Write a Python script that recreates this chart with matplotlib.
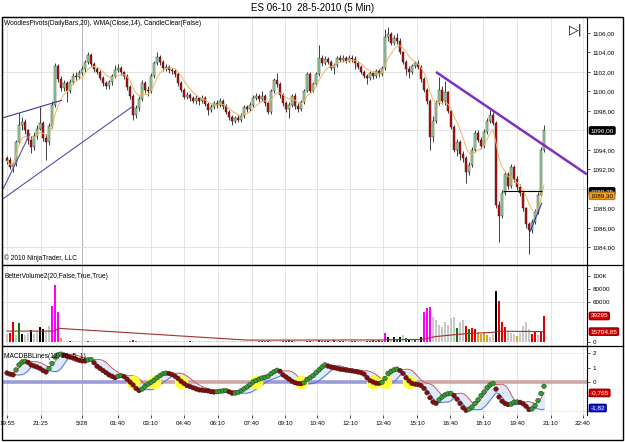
import numpy as np
import pandas as pd
import matplotlib.pyplot as plt
from matplotlib.collections import LineCollection
from matplotlib.lines import Line2D
from matplotlib.patches import Rectangle

plt.rcParams['font.family'] = ['Liberation Sans', 'DejaVu Sans']

# ES 06-10, 5 min candles
opens = [
    1093.2, 1093.0, 1092.3, 1092.6, 1094.8, 1096.6, 1096.9, 1096.0, 1095.0, 1094.3,
    1095.4, 1096.2, 1096.8, 1095.2, 1094.8, 1096.5, 1098.6, 1102.6, 1101.3, 1100.4,
    1100.9, 1100.0, 1101.0, 1101.6, 1101.5, 1101.9, 1102.3, 1103.0, 1103.7, 1102.8,
    1102.3, 1102.0, 1101.4, 1100.9, 1100.6, 1101.0, 1101.6, 1102.2, 1102.4, 1102.0,
    1101.6, 1100.5, 1099.5, 1097.6, 1098.3, 1099.2, 1100.9, 1100.2, 1100.0, 1101.6,
    1102.9, 1103.5, 1103.0, 1102.4, 1102.5, 1102.2, 1102.1, 1101.8, 1100.9, 1100.2,
    1099.4, 1099.6, 1099.3, 1099.0, 1099.3, 1099.0, 1099.3, 1098.7, 1098.1, 1098.4,
    1098.8, 1098.6, 1099.0, 1098.5, 1097.9, 1097.4, 1097.0, 1097.3, 1097.1, 1097.5,
    1098.4, 1098.2, 1098.6, 1099.3, 1099.5, 1099.2, 1099.5, 1098.8, 1097.9, 1100.0,
    1101.2, 1100.8, 1099.6, 1098.8, 1098.2, 1098.6, 1099.5, 1098.5, 1098.2, 1098.9,
    1100.1, 1101.8, 1100.1, 1100.8, 1101.8, 1103.4, 1102.9, 1103.3, 1103.0, 1102.4,
    1102.7, 1103.4, 1103.2, 1103.4, 1103.1, 1103.4, 1103.3, 1102.9, 1102.5, 1102.0,
    1101.6, 1101.4, 1101.9, 1101.6, 1102.1, 1101.8, 1102.4, 1105.6, 1105.9, 1105.0,
    1105.5, 1105.2, 1104.0, 1103.0, 1102.3, 1102.0, 1102.6, 1102.9, 1102.5, 1101.3,
    1100.2, 1099.0, 1095.3, 1097.0, 1098.8, 1100.2, 1099.0, 1099.9, 1098.0, 1096.4,
    1094.0, 1094.8, 1093.6, 1093.2, 1091.7, 1092.5, 1094.0, 1095.7, 1095.0, 1094.4,
    1095.8, 1097.0, 1097.6, 1096.8, 1088.4, 1087.2, 1089.6, 1091.5, 1090.3, 1092.3,
    1091.0, 1090.2, 1089.6, 1088.0, 1086.4, 1085.8, 1086.6, 1087.6, 1089.4, 1094.0,
]
closes = [
    1092.9, 1092.3, 1092.6, 1094.8, 1096.6, 1096.9, 1096.0, 1095.0, 1094.3, 1095.4,
    1096.2, 1096.8, 1095.2, 1094.8, 1096.5, 1098.6, 1102.6, 1101.3, 1100.4, 1100.9,
    1100.0, 1101.0, 1101.6, 1101.5, 1101.9, 1102.3, 1103.0, 1103.7, 1102.8, 1102.3,
    1102.0, 1101.4, 1100.9, 1100.6, 1101.0, 1101.6, 1102.2, 1102.4, 1102.0, 1101.6,
    1100.5, 1099.5, 1097.6, 1098.3, 1099.2, 1100.9, 1100.2, 1100.0, 1101.6, 1102.9,
    1103.5, 1103.0, 1102.4, 1102.5, 1102.2, 1102.1, 1101.8, 1100.9, 1100.2, 1099.4,
    1099.6, 1099.3, 1099.0, 1099.3, 1099.0, 1099.3, 1098.7, 1098.1, 1098.4, 1098.8,
    1098.6, 1099.0, 1098.5, 1097.9, 1097.4, 1097.0, 1097.3, 1097.1, 1097.5, 1098.4,
    1098.2, 1098.6, 1099.3, 1099.5, 1099.2, 1099.5, 1098.8, 1097.9, 1100.0, 1101.2,
    1100.8, 1099.6, 1098.8, 1098.2, 1098.6, 1099.5, 1098.5, 1098.2, 1098.9, 1100.1,
    1101.8, 1100.1, 1100.8, 1101.8, 1103.4, 1102.9, 1103.3, 1103.0, 1102.4, 1102.7,
    1103.4, 1103.2, 1103.4, 1103.1, 1103.4, 1103.3, 1102.9, 1102.5, 1102.0, 1101.6,
    1101.4, 1101.9, 1101.6, 1102.1, 1101.8, 1102.4, 1105.6, 1105.9, 1105.0, 1105.5,
    1105.2, 1104.0, 1103.0, 1102.3, 1102.0, 1102.6, 1102.9, 1102.5, 1101.3, 1100.2,
    1099.0, 1095.3, 1097.0, 1098.8, 1100.2, 1099.0, 1099.9, 1098.0, 1096.4, 1094.0,
    1094.8, 1093.6, 1093.2, 1091.7, 1092.5, 1094.0, 1095.7, 1095.0, 1094.4, 1095.8,
    1097.0, 1097.6, 1096.8, 1088.4, 1087.2, 1089.6, 1091.5, 1090.3, 1092.3, 1091.0,
    1090.2, 1089.6, 1088.0, 1086.4, 1085.8, 1086.6, 1087.6, 1089.4, 1094.0, 1096.0,
]
highs = [
    1093.4, 1093.3, 1092.8, 1095.0, 1097.8, 1097.4, 1097.2, 1096.2, 1095.4, 1095.8,
    1096.6, 1098.4, 1097.0, 1095.6, 1096.8, 1099.0, 1102.9, 1102.8, 1101.6, 1101.2,
    1101.1, 1101.3, 1101.9, 1102.0, 1102.2, 1102.6, 1103.2, 1104.0, 1103.9, 1103.0,
    1102.5, 1102.2, 1101.6, 1101.1, 1101.2, 1101.8, 1102.7, 1102.8, 1102.6, 1102.1,
    1101.8, 1100.7, 1099.7, 1098.6, 1099.5, 1101.2, 1101.1, 1100.6, 1101.9, 1103.1,
    1104.0, 1103.7, 1103.2, 1102.8, 1102.7, 1102.4, 1102.3, 1102.0, 1101.1, 1100.4,
    1099.9, 1099.8, 1099.5, 1099.6, 1099.4, 1099.6, 1099.5, 1098.9, 1098.7, 1099.0,
    1099.1, 1099.3, 1099.2, 1098.7, 1098.1, 1097.6, 1097.5, 1097.6, 1097.8, 1098.6,
    1098.6, 1098.9, 1099.6, 1099.8, 1099.7, 1100.0, 1099.7, 1099.0, 1100.3, 1101.4,
    1101.9, 1101.0, 1099.8, 1099.0, 1098.9, 1099.7, 1099.8, 1098.8, 1099.1, 1100.3,
    1102.0, 1102.0, 1101.0, 1102.0, 1104.8, 1103.7, 1103.6, 1103.5, 1103.2, 1102.9,
    1103.6, 1103.7, 1103.7, 1103.6, 1103.7, 1103.7, 1103.6, 1103.1, 1102.7, 1102.2,
    1101.8, 1102.1, 1102.1, 1102.3, 1102.3, 1102.6, 1106.4, 1106.6, 1106.1, 1105.8,
    1106.0, 1105.5, 1104.2, 1103.2, 1102.6, 1102.8, 1103.1, 1103.2, 1102.7, 1101.5,
    1100.4, 1099.2, 1097.5, 1099.1, 1101.5, 1100.6, 1101.1, 1100.1, 1098.2, 1096.6,
    1095.1, 1095.0, 1093.9, 1093.4, 1092.8, 1094.3, 1096.0, 1096.0, 1095.3, 1096.1,
    1097.3, 1098.1, 1097.9, 1097.0, 1088.8, 1089.9, 1091.8, 1091.7, 1092.6, 1092.5,
    1091.3, 1090.5, 1089.8, 1088.2, 1086.6, 1086.9, 1087.9, 1089.7, 1094.3, 1096.6,
]
lows = [
    1092.6, 1092.0, 1091.7, 1092.4, 1094.6, 1096.0, 1095.6, 1094.6, 1093.7, 1094.0,
    1095.1, 1096.0, 1094.9, 1093.0, 1094.5, 1096.3, 1098.4, 1101.0, 1100.1, 1100.0,
    1098.9, 1099.8, 1100.8, 1101.2, 1101.3, 1101.7, 1102.0, 1102.8, 1102.6, 1102.0,
    1101.8, 1101.2, 1100.6, 1100.3, 1100.3, 1100.7, 1101.4, 1102.0, 1101.7, 1101.3,
    1100.2, 1099.2, 1097.1, 1097.3, 1098.0, 1099.0, 1099.8, 1099.5, 1099.8, 1101.4,
    1102.7, 1102.7, 1102.1, 1102.1, 1101.9, 1101.8, 1101.5, 1100.6, 1099.9, 1099.2,
    1099.2, 1099.0, 1098.8, 1098.7, 1098.6, 1098.8, 1098.5, 1097.6, 1097.9, 1098.2,
    1098.3, 1098.4, 1098.2, 1097.7, 1097.1, 1096.6, 1096.8, 1096.9, 1096.9, 1097.3,
    1097.9, 1098.0, 1098.4, 1099.1, 1098.9, 1099.0, 1098.5, 1097.7, 1097.7, 1099.8,
    1100.5, 1099.3, 1098.5, 1097.9, 1097.3, 1098.4, 1098.2, 1097.9, 1098.0, 1098.7,
    1099.9, 1099.8, 1099.9, 1100.6, 1101.6, 1102.6, 1102.7, 1102.8, 1102.2, 1101.8,
    1102.5, 1103.0, 1103.0, 1102.9, 1103.0, 1103.0, 1102.3, 1102.3, 1101.8, 1101.4,
    1100.8, 1101.2, 1101.3, 1101.4, 1101.5, 1101.6, 1102.2, 1105.2, 1104.8, 1104.8,
    1104.9, 1103.8, 1102.8, 1101.7, 1101.4, 1101.8, 1102.4, 1102.3, 1101.0, 1099.9,
    1098.7, 1094.0, 1094.8, 1096.8, 1098.6, 1098.7, 1098.6, 1097.8, 1096.2, 1093.8,
    1093.4, 1093.0, 1092.8, 1090.6, 1091.4, 1092.3, 1093.8, 1094.8, 1094.1, 1094.2,
    1095.6, 1096.8, 1096.6, 1088.0, 1084.6, 1087.0, 1089.4, 1090.0, 1090.1, 1090.7,
    1089.9, 1089.3, 1087.7, 1086.0, 1083.3, 1085.5, 1086.4, 1087.4, 1089.2, 1093.8,
]

# volume in thousands, bar kind: g grey, r red, G green, k black, m magenta, o gold
volume = [
    12, 14, 30, 10, 28, 12, 10, 14, 18, 12,
    16, 22, 19, 17, 24, 55, 86, 45, 6, 1.5,
    1, 2, 1, 1, 1.5, 1, 2, 1.5, 1, 1,
    1, 1.5, 1, 1, 1, 1.5, 1, 1, 1, 1.5,
    1, 2, 3, 2, 1, 1.5, 1, 1, 1, 1.5,
    1, 1, 1, 1, 1, 1, 1.5, 1, 1, 1,
    1, 1.5, 1, 1, 1, 1, 1, 1, 1, 1,
    1, 1, 1, 1, 1, 1, 1, 1, 1, 1,
    1, 1.5, 1, 1, 1.5, 2, 2, 1.5, 1, 1,
    1, 1, 1.5, 2, 2.5, 1.5, 1, 1, 1, 1,
    2, 1.5, 1, 1, 3, 2, 1.5, 2, 1.5, 3,
    1, 2, 1.5, 1, 1, 1.5, 2, 1.5, 1, 1,
    1.5, 2, 2.5, 2, 3, 2, 14, 8, 5, 7,
    5, 8, 10, 6, 5, 4, 4, 5, 7, 45,
    51, 53, 38, 33, 26, 23, 30, 26, 36, 38,
    21, 30, 33, 24, 19, 21, 20, 14, 12, 13,
    10, 8, 12, 77, 62, 30, 22, 16, 14, 12,
    9, 14, 24, 30, 20, 12, 16, 10, 15, 39.295,
]
vol_kind = ("grrgGkggkggkkggmmmo" "ggrgggggrg" "gggggggggg" "ggmrmggggg"
            "gggggggggg" "ggkggggggg" "gggggggggg" "gggggmrmrg" "gggGGGrggg"
            "grGggrrrkg" "rgrrggrrgg" "gGrGGrG" "mkgkGkgGkg" "Ggkmmmgggg"
            "ggggGggrGr" "rooooggkrr" "rgggoggggr" "rgrr")
vol_avg = [
    16.5, 16.5, 16.5, 16.5, 16.5, 16.5, 16.5, 16.5, 16.5, 16.5,
    16.5, 16.5, 16.5, 16.5, 16.5, 16.5, 16.5, 20.7, 20.4, 20.1,
    19.9, 19.6, 19.3, 19.0, 18.7, 18.4, 18.2, 17.9, 17.6, 17.3,
    17.0, 16.8, 16.5, 16.2, 15.9, 15.6, 15.3, 15.1, 14.8, 14.5,
    14.2, 13.9, 13.7, 13.4, 13.1, 12.8, 12.5, 12.2, 12.0, 11.7,
    11.4, 11.1, 10.8, 10.6, 10.3, 10.0, 9.7, 9.4, 9.1, 8.9,
    8.6, 8.3, 8.0, 7.7, 7.5, 7.2, 6.9, 6.6, 6.3, 6.0,
    5.8, 5.5, 5.2, 4.9, 4.6, 4.4, 4.1, 3.8, 3.5, 3.2,
    3.0, 2.9, 2.9, 2.8, 2.8, 2.8, 2.8, 2.8, 2.8, 2.8,
    2.8, 2.8, 2.9, 2.9, 2.9, 2.8, 2.8, 2.8, 2.8, 2.8,
    2.9, 2.9, 2.9, 2.9, 3.0, 3.0, 3.0, 3.0, 3.0, 3.1,
    3.1, 3.1, 3.0, 3.0, 3.0, 3.0, 3.0, 3.0, 3.0, 3.0,
    3.0, 3.0, 3.0, 3.0, 3.1, 3.1, 3.3, 3.4, 3.4, 3.5,
    3.5, 3.6, 3.7, 3.7, 3.8, 3.8, 3.8, 3.9, 3.9, 4.5,
    5.0, 6.5, 7.5, 8.3, 8.8, 9.2, 9.6, 10.0, 10.5, 11.0,
    11.4, 11.8, 12.2, 12.5, 12.8, 13.1, 13.4, 13.6, 13.8, 14.0,
    14.2, 14.4, 14.6, 15.4, 16.1, 16.3, 16.4, 16.3, 16.2, 16.1,
    16.0, 15.9, 16.0, 16.1, 16.0, 15.9, 15.8, 15.8, 15.7, 15.7,
]

macd = [
    0.63, 0.55, 0.5, 0.85, 1.2, 1.4, 1.45, 1.38, 1.2, 1.12,
    1.05, 0.95, 0.8, 0.7, 0.95, 1.3, 1.75, 1.9, 1.95, 1.88,
    1.8, 1.75, 1.68, 1.6, 1.52, 1.48, 1.47, 1.55, 1.58, 1.35,
    1.1, 0.95, 0.8, 0.65, 0.5, 0.4, 0.3, 0.4, 0.45, 0.38,
    0.2, 0.0, -0.2, -0.45, -0.6, -0.5, -0.3, -0.15, -0.02, 0.12,
    0.3, 0.45, 0.58, 0.62, 0.6, 0.52, 0.4, 0.25, 0.05, -0.1,
    -0.25, -0.32, -0.4, -0.48, -0.55, -0.57, -0.6, -0.62, -0.68, -0.7,
    -0.68, -0.65, -0.62, -0.6, -0.68, -0.78, -0.78, -0.72, -0.62, -0.48,
    -0.35, -0.18, 0.0, 0.1, 0.2, 0.28, 0.33, 0.4, 0.58, 0.72,
    0.82, 0.75, 0.5, 0.35, 0.2, 0.05, -0.05, -0.1, -0.12, -0.05,
    0.18, 0.3, 0.45, 0.65, 0.85, 1.05, 1.2, 1.12, 1.05, 1.0,
    0.95, 0.9, 0.87, 0.84, 0.8, 0.78, 0.74, 0.7, 0.65, 0.55,
    0.3, 0.1, 0.0, -0.08, -0.1, -0.02, 0.25, 0.6, 0.75, 0.85,
    0.9, 0.8, 0.6, 0.3, 0.08, -0.1, -0.15, -0.18, -0.25, -0.45,
    -0.75, -1.1, -1.4, -1.5, -1.25, -1.05, -0.9, -0.82, -0.8, -0.95,
    -1.2, -1.5, -1.8, -1.98, -1.9, -1.75, -1.5, -1.25, -0.95, -0.7,
    -0.4, -0.2, -0.1, -0.5, -1.05, -1.35, -1.5, -1.58, -1.55, -1.42,
    -1.4, -1.42, -1.52, -1.7, -1.93, -1.88, -1.65, -1.3, -0.8, -0.3,
]
cross_idx = [42, 49, 58, 83, 98, 122, 126, 134]
zero_breaks = [44, 81, 135]     # zero line changes colour at these bars

time_labels = ['19:55', '21:25', '5/28', '01:40', '03:10', '04:40', '06:10', '07:40',
               '09:10', '10:40', '12:10', '13:40', '15:10', '16:40', '18:10', '19:40',
               '21:10', '22:40']
time_pos = [0, 11.3, 25, 37, 48, 59, 70.3, 81.7, 92.7, 103.3, 114.3, 125.3,
            136.7, 147.7, 158.7, 170, 181.3, 192]

# hand drawn lines on the price panel: (bar, price) end points
trend_lines = [
    ((-1.3, 1097.3), (18.3, 1099.1), '#3a3a9a', 0.8),
    ((-1.3, 1089.0), (42.0, 1098.5), '#5050b0', 0.8),
    ((-1.3, 1090.0), (7.7, 1095.7), '#5050b0', 0.8),
    ((143.0, 1102.0), (193.3, 1091.5), '#7f30c0', 1.8),
    ((174.3, 1085.6), (178.3, 1088.6), '#3030c0', 0.8),
    ((165.3, 1089.75), (178.3, 1089.75), 'black', 0.8),
]

W, H = 625, 442
fig = plt.figure(figsize=(W / 100, H / 100), dpi=100)
fig.patch.set_facecolor('white')

ax1 = fig.add_axes([2 / W, 1 - 265 / H, 585 / W, 248 / H])
ax2 = fig.add_axes([2 / W, 1 - 346 / H, 585 / W, 81 / H])
ax3 = fig.add_axes([2 / W, 1 - 415 / H, 585 / W, 69 / H])

x = np.arange(len(closes))
o = np.array(opens)
c = np.array(closes)
hi = np.array(highs)
lo = np.array(lows)
xmin, xmax = -1.67, 193.33

for ax in (ax1, ax2, ax3):
    ax.set_xlim(xmin, xmax)
    ax.yaxis.tick_right()
    ax.tick_params(axis='y', labelsize=4.5, length=2, width=0.5, pad=2)
    ax.tick_params(axis='x', labelsize=4.5, length=2, width=0.5, pad=2)
    for sp in ax.spines.values():
        sp.set_linewidth(0.8)
    for p, lab in zip(time_pos, time_labels):
        ax.axvline(p, color='#a8a8a8' if lab == '5/28' else '#e0e0e0', lw=0.6, zorder=0)
    ax.set_xticks(time_pos)
ax1.set_xticklabels([])
ax2.set_xticklabels([])
ax1.tick_params(axis='x', length=0)
ax2.tick_params(axis='x', length=0)
ax3.set_xticklabels(time_labels)
ax3.spines['bottom'].set_visible(False)

# ---- price panel ----
ax1.set_ylim(1082.2, 1107.64)
for g in (1084, 1090, 1096, 1102):
    ax1.axhline(g, color='#e0e0e0', lw=0.6, zorder=0)
pt = [1084, 1086, 1088, 1092, 1094, 1098, 1100, 1102, 1104, 1106]
ax1.set_yticks(pt)
ax1.set_yticklabels([f"{v:.2f}".replace('.', ',') for v in pt])

up = c >= o
ax1.vlines(x, lo, hi, color='#202020', lw=0.6, zorder=2)
ax1.bar(x, np.maximum(np.abs(c - o), 0.06), bottom=np.minimum(o, c), width=0.86,
        color=np.where(up, '#9fe09f', '#c40c0c'), edgecolor='#1a1a1a', linewidth=0.3, zorder=3)


def wma(vals, period):
    out = []
    for i in range(len(vals)):
        w = np.arange(1, min(period, i + 1) + 1)
        out.append(np.dot(vals[i + 1 - len(w):i + 1], w) / w.sum())
    return np.array(out)


ax1.plot(x, wma(c, 9), color='#f2b45e', lw=0.7, zorder=4)

for (x0, y0), (x1, y1), col, lw in trend_lines:
    ax1.plot([x0, x1], [y0, y1], color=col, lw=lw, zorder=5, solid_capstyle='butt')

ax1.text(0.004, 0.988, "WoodiesPivots(DailyBars,20), WMA(Close,14), CandleClear(False)",
         transform=ax1.transAxes, fontsize=4.8, va='top', ha='left')
ax1.text(0.004, 0.012, "\u00a9 2010 NinjaTrader, LLC", transform=ax1.transAxes,
         fontsize=4.8, va='bottom', ha='left')
ax1.text(0.981, 0.948, "\u25b7|", transform=ax1.transAxes, fontsize=9,
         va='center', ha='center', family=['DejaVu Sans'])

yt = ax1.get_yaxis_transform()
ax1.text(1.006, 1096.0, "1096,00", transform=yt, fontsize=4.6, color='white',
         va='center', ha='left', bbox=dict(boxstyle='round,pad=0.18', fc='black', ec='black'))
ax1.text(1.006, 1089.75, "1089,75", transform=yt, fontsize=4.6, color='white',
         va='center', ha='left', bbox=dict(boxstyle='round,pad=0.18', fc='black', ec='black'))
ax1.text(1.006, 1089.3, "1089,30", transform=yt, fontsize=4.6, color='black',
         va='center', ha='left', bbox=dict(boxstyle='round,pad=0.18', fc='#f5a623', ec='#c07a10'))

# ---- volume panel ----
ax2.set_ylim(-6.0, 116.2)
ax2.axhline(60, color='#e0e0e0', lw=0.6, zorder=0)
kind_col = {'g': '#c8c8c8', 'r': '#e00000', 'G': '#008000', 'k': '#000000',
            'm': '#ff00ff', 'o': '#daa520'}
ax2.bar(x, volume, width=0.8, color=[kind_col[k] for k in vol_kind], zorder=2)
ax2.plot(x, vol_avg, color='#a03030', lw=0.8, zorder=3)
ax2.set_yticks([0, 60, 80, 100])
ax2.set_yticklabels(['0', '60000', '80000', '100K'])
ax2.text(0.004, 0.9, "BetterVolume2(20,False,True,True)", transform=ax2.transAxes,
         fontsize=4.8, va='top', ha='left')
yt2 = ax2.get_yaxis_transform()
ax2.text(1.006, 39.295, "39295", transform=yt2, fontsize=4.6, color='white', va='center',
         ha='left', bbox=dict(boxstyle='round,pad=0.18', fc='#e00000', ec='#900000'))
ax2.text(1.006, 15.70485, "15704,85", transform=yt2, fontsize=4.6, color='white', va='center',
         ha='left', bbox=dict(boxstyle='round,pad=0.18', fc='#e00000', ec='#900000'))

# ---- MACD panel ----
ax3.set_ylim(-2.31, 2.52)
for g in (2, -2):
    ax3.axhline(g, color='#e8e8e8', lw=0.6, zorder=0)
m = pd.Series(macd)
mid = m.rolling(6, min_periods=1).mean()
sd = m.rolling(6, min_periods=1).std(ddof=0)
upper = (mid + sd).values
lower = (mid - sd).values
ax3.fill_between(x, lower, upper, color='#dcebf7', zorder=1)

edges = [xmin] + list(zero_breaks) + [xmax]
zcols = ['#9c9cd8', '#cfa6a6', '#9c9cd8', '#cfa6a6']
segs = [[(edges[k], 0), (edges[k + 1], 0)] for k in range(len(edges) - 1)]
ax3.add_collection(LineCollection(segs, colors=zcols, linewidths=2.6, zorder=1.5))

ax3.plot(x, upper, color='#d04848', lw=0.6, zorder=2)
ax3.plot(x, lower, color='#4a62d0', lw=0.6, zorder=2)
ax3.scatter(cross_idx, np.zeros(len(cross_idx)), s=95, color='#ffff3a', lw=0, zorder=2.5)
mv = np.array(macd)
rising = np.concatenate([[False], mv[1:] >= mv[:-1]])
ax3.scatter(x, mv, s=11, c=np.where(rising, '#2f9e2f', '#8b0a0a'),
            edgecolors='#202020', linewidths=0.3, zorder=3)
ax3.set_yticks([-2, -1, 0, 1, 2])
ax3.set_yticklabels(['', '', '0', '1', '2'])
ax3.text(0.004, 0.9, "MACDBBLines(12, 26, 5, 1)", transform=ax3.transAxes,
         fontsize=4.8, va='top', ha='left', zorder=6)
yt3 = ax3.get_yaxis_transform()
ax3.text(1.006, -0.765, "-0,765", transform=yt3, fontsize=4.6, color='white', va='center',
         ha='left', bbox=dict(boxstyle='round,pad=0.18', fc='#e00000', ec='#900000'))
ax3.text(1.006, -1.82, "-1,82", transform=yt3, fontsize=4.6, color='white', va='center',
         ha='left', bbox=dict(boxstyle='round,pad=0.18', fc='#1a1ad0', ec='#000090'))

# ---- frame and title ----
fig.add_artist(Rectangle((2 / W, 1 - 440 / H), 621 / W, 423 / H, transform=fig.transFigure,
                         fill=False, ec='black', lw=1.0))
for yy in (265, 346):
    fig.add_artist(Line2D([2 / W, 623 / W], [1 - yy / H, 1 - yy / H],
                          transform=fig.transFigure, color='black', lw=0.9))
fig.text(0.5, 1 - 8 / H, "ES 06-10  28-5-2010 (5 Min)", ha='center', va='center', fontsize=7)

fig.savefig('out.png', dpi=100)
